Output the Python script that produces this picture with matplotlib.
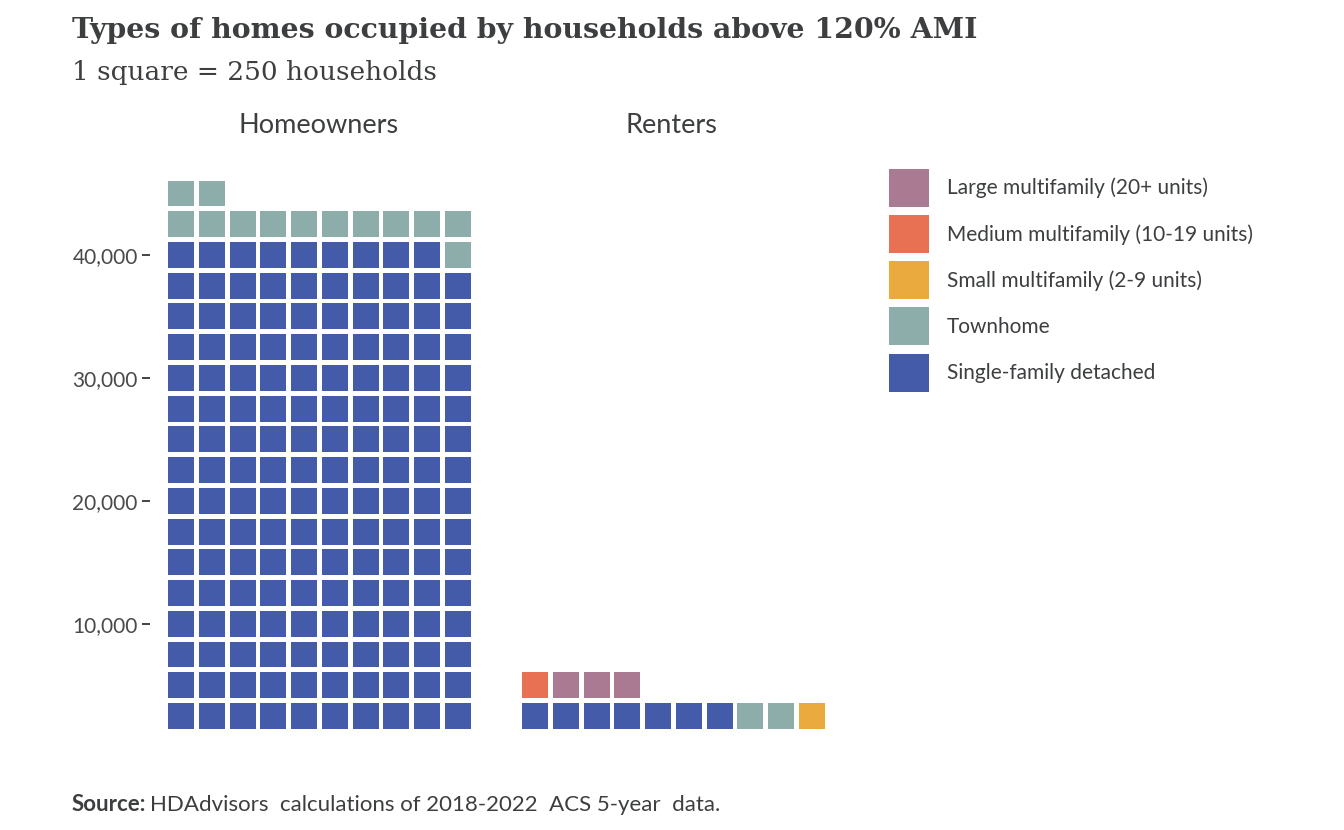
import matplotlib
matplotlib.use("Agg")
import matplotlib.pyplot as plt
from matplotlib.patches import Patch
from matplotlib.ticker import FuncFormatter

# households above 120% AMI, 1 square = 250 households
categories = ["Single-family detached", "Townhome", "Small multifamily (2-9 units)",
              "Medium multifamily (10-19 units)", "Large multifamily (20+ units)"]
colors = ["#445BAA", "#8CADAA", "#EAAA3E", "#E97153", "#AA7A93"]
owner_households = [39750, 3250, 0, 0, 0]
renter_households = [1750, 500, 250, 250, 750]
per_square = 250
per_row = 10
y_ticks = [10000, 20000, 30000, 40000]

txt = "#3C3E40"
W, H = 1344, 830
fig = plt.figure(figsize=(W / 100, H / 100), dpi=100)

def fx(px):
    return px / W

def fy(py):
    return 1 - py / H

row_val = per_square * per_row
bottom_px, top_px = 746.7, 168.9
ax_b = fy(bottom_px)
ax_h = (bottom_px - top_px) / H

def waffle(ax, households):
    idx = 0
    for cat, hh, col in zip(categories, households, colors):
        n = round(hh / per_square)
        xs, ys = [], []
        for _ in range(n):
            xs.append(idx % per_row + 1)
            ys.append((idx // per_row + 1) * row_val)
            idx += 1
        h = 0.845 * row_val
        ax.bar(xs, h, bottom=[y - h / 2 for y in ys], width=0.845, color=col, linewidth=0)
    ax.set_xlim(0.5, 10.5)
    ax.set_ylim(0, 47000)
    for s in ax.spines.values():
        s.set_visible(False)
    ax.set_xticks([])

ax1 = fig.add_axes([fx(165.6), ax_b, fx(307.8), ax_h])
ax2 = fig.add_axes([fx(519.6), ax_b, fx(307.8), ax_h])
waffle(ax1, owner_households)
waffle(ax2, renter_households)

ax1.set_yticks(y_ticks)
ax1.yaxis.set_major_formatter(FuncFormatter(lambda v, p: f"{int(v):,}"))
ax1.spines['left'].set_position(('outward', 11.2))
ax1.tick_params(axis='y', length=5.8, width=1.2, color="#222222", pad=3,
                labelsize=15, labelcolor="#4a4a4a")
for lab in ax1.get_yticklabels():
    lab.set_fontfamily("Lato")
ax2.set_yticks([])

fig.text(fx(318.5), fy(133), "Homeowners", ha='center', va='baseline',
         fontsize=19.5, family="Lato", color=txt)
fig.text(fx(671.5), fy(133), "Renters", ha='center', va='baseline',
         fontsize=19.5, family="Lato", color=txt)

fig.text(fx(72), fy(38), "Types of homes occupied by households above 120% AMI",
         ha='left', va='baseline', fontsize=20.4, fontweight='bold',
         family="DejaVu Serif", color=txt)
fig.text(fx(72), fy(80), "1 square = 250 households", ha='left', va='baseline',
         fontsize=19, family="DejaVu Serif", color=txt)

handles = [Patch(facecolor=c, edgecolor='none', label=l)
           for l, c in zip(categories[::-1], colors[::-1])]
fig.legend(handles=handles, loc='upper left', bbox_to_anchor=(fx(889), fy(169)),
           frameon=False, borderpad=0, borderaxespad=0,
           prop={'family': 'Lato', 'size': 15},
           handlelength=1.92, handleheight=2.43, labelspacing=0.39,
           handletextpad=0.87, labelcolor=txt)

src = fig.text(fx(72), fy(811), "Source:", ha='left', va='baseline', fontsize=16,
               family="Lato", fontweight='bold', color=txt)
fig.canvas.draw()
bb = src.get_window_extent()
fig.text(bb.x1 / W + fx(4), fy(811), "HDAdvisors  calculations of 2018-2022  ACS 5-year  data.",
         ha='left', va='baseline', fontsize=16, family="Lato", color=txt)

fig.savefig("out.png", dpi=100)
